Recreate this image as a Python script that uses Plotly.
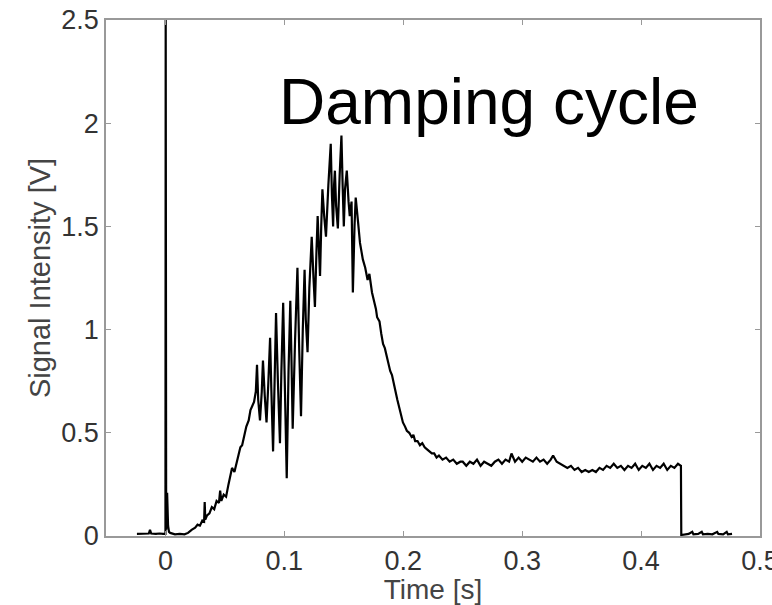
import plotly.graph_objects as go

# ---- data (time [s], signal [V]) ----
pre_trigger = [(-0.024, 0.01), (-0.020, 0.012), (-0.017, 0.01), (-0.014, 0.012), (-0.013, 0.03),
               (-0.012, 0.012), (-0.008, 0.01), (-0.005, 0.012), (-0.002, 0.01), (0.0, 0.01),
               (0.0002, 2.6), (0.0006, 0.03), (0.0014, 0.21), (0.0022, 0.05), (0.003, 0.02)]

rise = [(0.004, 0.015), (0.008, 0.008), (0.012, 0.01), (0.016, 0.008), (0.019, 0.015), (0.022, 0.03),
        (0.025, 0.04), (0.027, 0.055), (0.029, 0.05), (0.031, 0.075), (0.0325, 0.07), (0.033, 0.165),
        (0.0335, 0.08), (0.035, 0.10), (0.037, 0.11), (0.039, 0.14), (0.041, 0.13), (0.043, 0.17),
        (0.045, 0.16), (0.046, 0.22), (0.047, 0.17), (0.049, 0.20), (0.051, 0.19), (0.053, 0.25),
        (0.0545, 0.29), (0.056, 0.33), (0.058, 0.31), (0.060, 0.36), (0.062, 0.41), (0.063, 0.43),
        (0.0645, 0.44), (0.066, 0.48), (0.068, 0.53), (0.070, 0.56), (0.0715, 0.61), (0.073, 0.63)]

oscillation = [(0.0745, 0.65), (0.076, 0.70), (0.077, 0.83), (0.078, 0.66), (0.0795, 0.56), (0.081, 0.70),
               (0.082, 0.85), (0.0835, 0.68), (0.085, 0.55), (0.0865, 0.74), (0.088, 0.96), (0.089, 0.72),
               (0.0905, 0.41), (0.0918, 0.75), (0.093, 1.08), (0.0945, 0.76), (0.0963, 0.45), (0.0975, 0.80),
               (0.099, 1.13), (0.1005, 0.70), (0.102, 0.28), (0.1035, 0.80), (0.105, 1.14), (0.106, 0.85),
               (0.107, 0.52), (0.109, 0.95), (0.111, 1.30), (0.1125, 0.90), (0.114, 0.58), (0.1155, 1.00),
               (0.117, 1.29), (0.118, 1.05), (0.1195, 0.89), (0.121, 1.20), (0.123, 1.45), (0.1245, 1.25),
               (0.1257, 1.11), (0.127, 1.38), (0.128, 1.55), (0.129, 1.40), (0.130, 1.26), (0.131, 1.50),
               (0.132, 1.68), (0.1335, 1.55), (0.135, 1.45), (0.137, 1.70), (0.139, 1.90), (0.140, 1.65),
               (0.141, 1.50), (0.1418, 1.70), (0.1425, 1.77), (0.1435, 1.60), (0.145, 1.49), (0.1465, 1.75),
               (0.148, 1.94), (0.149, 1.70), (0.150, 1.50), (0.151, 1.68), (0.1525, 1.77), (0.154, 1.62),
               (0.155, 1.55), (0.1565, 1.62), (0.1576, 1.18), (0.159, 1.50), (0.160, 1.64), (0.162, 1.52),
               (0.1636, 1.42)]

decay = [(0.166, 1.34), (0.168, 1.30), (0.170, 1.24), (0.1715, 1.27), (0.1737, 1.18), (0.1755, 1.14),
         (0.177, 1.10), (0.178, 1.06), (0.180, 1.04), (0.1815, 0.98), (0.183, 0.93), (0.1845, 0.91),
         (0.186, 0.87), (0.1875, 0.84), (0.189, 0.80), (0.1905, 0.78), (0.192, 0.73), (0.1935, 0.70),
         (0.195, 0.66), (0.1965, 0.62), (0.198, 0.59), (0.1997, 0.55), (0.2015, 0.53), (0.203, 0.51),
         (0.205, 0.50), (0.207, 0.48), (0.2085, 0.49), (0.210, 0.46), (0.212, 0.46), (0.214, 0.44),
         (0.216, 0.45), (0.218, 0.43), (0.220, 0.42), (0.222, 0.41), (0.224, 0.40), (0.226, 0.40),
         (0.228, 0.38), (0.230, 0.39), (0.233, 0.37), (0.236, 0.38), (0.239, 0.36), (0.242, 0.37),
         (0.245, 0.35), (0.248, 0.36)]

plateau = [(0.250, 0.36), (0.253, 0.34), (0.256, 0.36), (0.259, 0.35), (0.262, 0.37), (0.265, 0.34),
           (0.268, 0.36), (0.271, 0.35), (0.274, 0.34), (0.277, 0.36), (0.280, 0.37), (0.283, 0.35),
           (0.286, 0.37), (0.289, 0.36), (0.291, 0.40), (0.294, 0.36), (0.297, 0.38), (0.300, 0.36),
           (0.303, 0.38), (0.306, 0.37), (0.309, 0.36), (0.312, 0.38), (0.315, 0.36), (0.318, 0.37),
           (0.321, 0.35), (0.324, 0.37), (0.326, 0.39), (0.329, 0.36), (0.332, 0.35), (0.335, 0.34),
           (0.338, 0.33), (0.341, 0.34), (0.344, 0.32), (0.347, 0.33), (0.350, 0.31), (0.353, 0.32),
           (0.356, 0.31), (0.359, 0.32), (0.362, 0.31), (0.365, 0.33), (0.368, 0.32), (0.371, 0.34),
           (0.374, 0.33), (0.377, 0.35), (0.380, 0.33), (0.383, 0.34), (0.386, 0.32), (0.389, 0.34),
           (0.392, 0.33), (0.395, 0.35), (0.398, 0.32), (0.401, 0.34), (0.404, 0.33), (0.407, 0.35),
           (0.410, 0.32), (0.413, 0.34), (0.416, 0.33), (0.419, 0.35), (0.422, 0.32), (0.425, 0.34),
           (0.428, 0.33), (0.431, 0.35), (0.4335, 0.34)]

post_cycle = [(0.4338, 0.005), (0.437, 0.008), (0.440, 0.01), (0.443, 0.02), (0.444, 0.008), (0.448, 0.01),
              (0.451, 0.02), (0.452, 0.008), (0.456, 0.01), (0.460, 0.008), (0.464, 0.02), (0.465, 0.01),
              (0.469, 0.008), (0.472, 0.02), (0.473, 0.008), (0.4765, 0.01)]

x_ticks = [0, 0.1, 0.2, 0.3, 0.4, 0.5]
x_ticktext = ["0", "0.1", "0.2", "0.3", "0.4", "0.5"]
y_ticks = [0, 0.5, 1, 1.5, 2, 2.5]
y_ticktext = ["0", "0.5", "1", "1.5", "2", "2.5"]

annotation_text = "Damping cycle"
annotation_pos = (0.2717, 2.105)

# ---- build figure ----
points = pre_trigger + rise + oscillation + decay + plateau + post_cycle
t = [p[0] for p in points]
v = [p[1] for p in points]

FONT = "Liberation Sans, Arial, Helvetica, sans-serif"
fig = go.Figure(go.Scatter(x=t, y=v, mode="lines",
                           line=dict(color="black", width=2.2), hoverinfo="skip"))

axis_common = dict(
    ticks="inside", ticklen=5, tickwidth=1, tickcolor="#999999",
    showline=True, linecolor="#999999", linewidth=1.5, mirror="ticks",
    showgrid=False, zeroline=False, automargin=False,
    tickfont=dict(family=FONT, size=27, color="#333333"),
)

fig.update_layout(
    width=772, height=605,
    margin=dict(l=106, r=12, t=20, b=69),
    paper_bgcolor="white", plot_bgcolor="white",
    showlegend=False,
    font=dict(family=FONT),
    xaxis=dict(range=[-0.05, 0.5], tickmode="array", tickvals=x_ticks, ticktext=x_ticktext,
               ticklabeloverflow="allow",
               title=dict(text="Time [s]", font=dict(family=FONT, size=28, color="#444444"), standoff=0),
               **axis_common),
    yaxis=dict(range=[0, 2.5], tickmode="array", tickvals=y_ticks, ticktext=y_ticktext,
               title=dict(text="Signal Intensity [V]", font=dict(family=FONT, size=29, color="#444444"), standoff=2),
               **axis_common),
    annotations=[dict(x=annotation_pos[0], y=annotation_pos[1], xref="x", yref="y",
                      text=annotation_text, showarrow=False,
                      font=dict(family=FONT, size=64, color="black"))],
)

fig.write_html("out.html", config={"displayModeBar": False},
               post_script="document.body.style.margin='0';document.body.style.overflow='hidden';")
